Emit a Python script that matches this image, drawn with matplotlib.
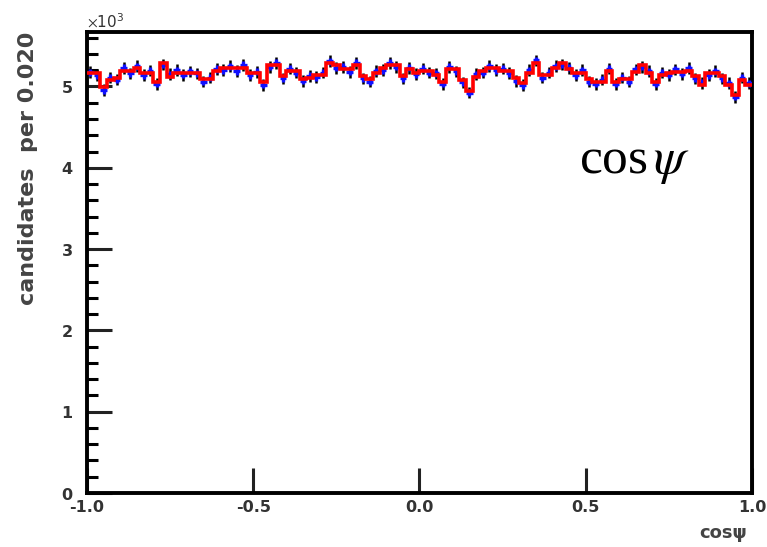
import numpy as np
import matplotlib.pyplot as plt
from matplotlib.ticker import MultipleLocator

# bin edges of cos(psi), 100 bins of width 0.02
edges = np.linspace(-1.0, 1.0, 101)
centers = 0.5 * (edges[:-1] + edges[1:])

# fitted shape (red histogram), candidates per bin
fit = [5162, 5162, 4990, 5080, 5100, 5195, 5195, 5223, 5170, 5170,
       5059, 5293, 5121, 5170, 5170, 5170, 5170, 5088, 5088, 5190,
       5223, 5223, 5223, 5231, 5162, 5162, 5059, 5264, 5264, 5129,
       5195, 5195, 5096, 5100, 5141, 5141, 5293, 5264, 5211, 5211,
       5264, 5129, 5088, 5170, 5223, 5264, 5264, 5129, 5211, 5170,
       5195, 5195, 5141, 5059, 5211, 5211, 5080, 4949, 5121, 5195,
       5223, 5223, 5195, 5195, 5100, 5039, 5170, 5293, 5141, 5141,
       5223, 5293, 5211, 5170, 5170, 5088, 5059, 5059, 5195, 5059,
       5088, 5088, 5182, 5264, 5170, 5059, 5141, 5170, 5182, 5182,
       5195, 5129, 5018, 5162, 5162, 5129, 5018, 4895, 5080, 5018]

# data points, candidates per bin
data = [5175, 5140, 4955, 5110, 5085, 5230, 5160, 5250, 5140, 5195,
        5030, 5270, 5150, 5200, 5145, 5185, 5160, 5060, 5110, 5215,
        5200, 5250, 5190, 5265, 5140, 5180, 5020, 5240, 5290, 5100,
        5220, 5170, 5070, 5130, 5115, 5170, 5310, 5230, 5240, 5180,
        5290, 5100, 5060, 5190, 5200, 5290, 5240, 5100, 5230, 5150,
        5220, 5170, 5160, 5030, 5240, 5185, 5050, 4925, 5150, 5170,
        5250, 5200, 5220, 5165, 5070, 5015, 5200, 5320, 5110, 5170,
        5250, 5270, 5230, 5140, 5200, 5060, 5030, 5085, 5220, 5030,
        5110, 5060, 5210, 5240, 5190, 5030, 5170, 5145, 5210, 5155,
        5225, 5100, 5045, 5140, 5190, 5100, 5040, 4870, 5110, 5040]

fit = np.array(fit)
data = np.array(data)
err = np.sqrt(data)

plt.rcParams['mathtext.fontset'] = 'stix'

fig = plt.figure(figsize=(7.67, 5.47), dpi=100)
ax = fig.add_axes([0.1134, 0.0987, 0.8670, 0.8428])

ax.errorbar(centers, data, yerr=err, fmt='none', ecolor='black',
            elinewidth=1.8, capsize=0, zorder=2)
ax.errorbar(centers, data, xerr=0.01, yerr=0.6 * err, fmt='none',
            ecolor='#1010ff', elinewidth=2.4, capsize=0, zorder=3)
ax.stairs(fit, edges, baseline=None, color='red', lw=2.6, zorder=4)

ax.set_xlim(-1.0, 1.0)
ax.set_ylim(0, 5670)
ax.set_xticks([-1.0, -0.5, 0.0, 0.5, 1.0])
ax.xaxis.set_major_formatter(plt.FormatStrFormatter('%.1f'))
ax.yaxis.set_major_locator(MultipleLocator(1000))
ax.yaxis.set_minor_locator(MultipleLocator(200))
ax.ticklabel_format(axis='y', style='sci', scilimits=(3, 3), useMathText=True)

for s in ax.spines.values():
    s.set_linewidth(2.8)
ax.tick_params(axis='both', which='major', direction='in', length=18, width=2.2,
               labelsize=11.5, colors='#222222', labelcolor='#333333')
ax.tick_params(axis='x', which='major', pad=5)
ax.tick_params(axis='y', which='major', pad=10)
ax.tick_params(axis='y', which='minor', direction='in', length=8, width=2.2)
ax.tick_params(top=False, right=False)
for lab in ax.get_xticklabels() + ax.get_yticklabels():
    lab.set_fontweight('bold')
ax.yaxis.get_offset_text().set_fontsize(11)
ax.yaxis.get_offset_text().set_color('#333333')

ax.set_ylabel('candidates  per 0.020', fontsize=16, fontweight='bold',
              color='#444444', loc='top', labelpad=16)
ax.set_xlabel('cos\u03c8', fontsize=13, fontweight='bold', color='#444444',
              loc='right')
ax.xaxis.set_label_coords(0.992, -0.068)

ax.text(0.74, 0.695, r'cos$\,\psi$', transform=ax.transAxes, fontsize=37,
        family='Liberation Serif', color='black')

fig.savefig('out.png', dpi=100)
